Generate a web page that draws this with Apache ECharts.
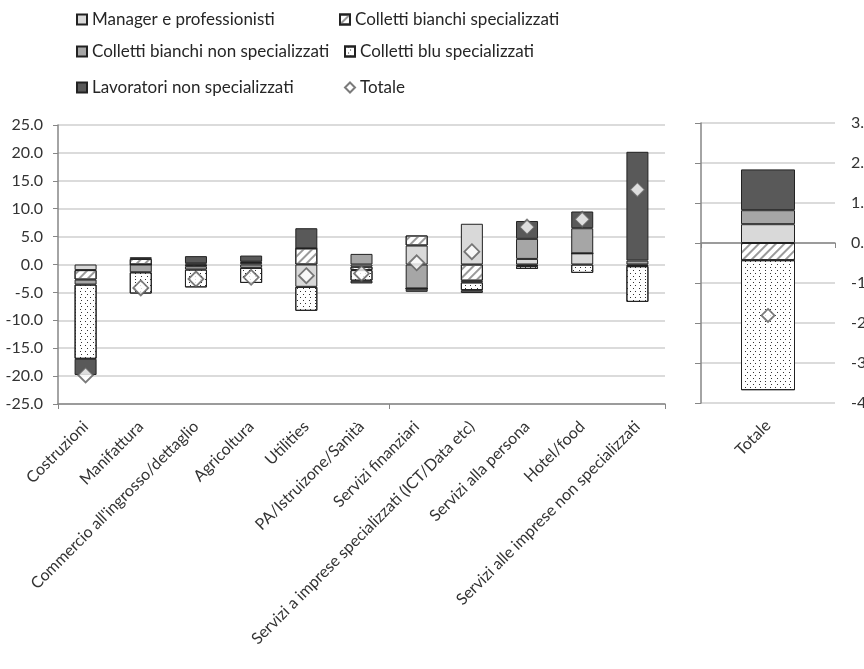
<!DOCTYPE html>
<html>
<head>
<meta charset="utf-8">
<script src="https://cdn.jsdelivr.net/npm/echarts@6/dist/echarts.min.js"></script>
<style>
  html, body { margin: 0; padding: 0; background: #fff; }
  #container { width: 864px; height: 669px; }
</style>
</head>
<body>
<div id="container"></div>
<script>
// categorie (grafico di sinistra)
var categories = ['Costruzioni', 'Manifattura', "Commercio all'ingrosso/dettaglio", 'Agricoltura', 'Utilities',
	'PA/Istruizone/Sanità', 'Servizi finanziari', 'Servizi a imprese specializzati (ICT/Data etc)',
	'Servizi alla persona', 'Hotel/food', 'Servizi alle imprese non specializzati'];
var manager = [-1.0, 0.0, 0.2, 0.3, -4.0, -0.4, 3.4, 7.3, 1.0, 2.0, -0.2];
var bianchiSpec = [-1.7, 1.0, -0.3, 0.2, 2.9, -0.6, 1.8, -2.9, -0.3, 0.0, -0.1];
var bianchiNonSpec = [-0.9, -1.4, -0.6, -0.6, 0.0, 1.9, -4.3, -0.3, 3.6, 4.5, 0.7];
var bluSpec = [-13.3, -3.8, -3.2, -2.7, -4.3, -1.9, 0.0, -1.4, -0.5, -1.5, -6.4];
var lavNonSpec = [-2.9, 0.3, 1.3, 1.1, 3.6, -0.5, -0.6, -0.5, 3.2, 3.0, 19.5];
var totale = [-19.8, -4.2, -2.6, -2.3, -2.0, -1.6, 0.3, 2.3, 6.7, 8.1, 13.4];

// grafico di destra (Totale)
var totCategories = ['Totale'];
var totManager = [0.47];
var totBianchiSpec = [-0.43];
var totBianchiNonSpec = [0.35];
var totBluSpec = [-3.25];
var totLavNonSpec = [1.02];
var totTotale = [-1.81];

var leftTicks = { min: -25, max: 25, interval: 5 };
var rightTicks = { min: -4, max: 3, interval: 1 };

var dom = document.getElementById('container');
var myChart = echarts.init(dom);

var font = 'Lato';
var border = { borderColor: '#222', borderWidth: 1 };

// stili delle serie
var styles = {
	'Manager e professionisti': { color: '#d9d9d9' },
	'Colletti bianchi specializzati': {
		color: '#ffffff',
		decal: { symbol: 'rect', color: '#9a9a9a', dashArrayX: [1, 0], dashArrayY: [1.2, 3.5], rotation: -Math.PI / 4 }
	},
	'Colletti bianchi non specializzati': { color: '#a6a6a6' },
	'Colletti blu specializzati': {
		color: '#ffffff',
		decal: { symbol: 'rect', symbolSize: 1, color: '#333', dashArrayX: [[1, 4], [0, 2.5, 1, 1.5]], dashArrayY: [1, 1.5] }
	},
	'Lavoratori non specializzati': { color: '#595959' }
};

function barSeries(name, data, xIdx, yIdx, width) {
	return {
		name: name,
		type: 'bar',
		stack: 'g' + xIdx,
		xAxisIndex: xIdx,
		yAxisIndex: yIdx,
		barWidth: width,
		itemStyle: Object.assign({}, styles[name], border),
		data: data
	};
}

function diamondSeries(data, xIdx, yIdx, size) {
	return {
		name: 'Totale',
		type: 'scatter',
		xAxisIndex: xIdx,
		yAxisIndex: yIdx,
		symbol: 'diamond',
		symbolSize: size,
		itemStyle: { color: '#fff', borderColor: '#5a5a5a', borderWidth: 1.8 },
		z: 5,
		data: data
	};
}

function legendItem(name, left, top, icon) {
	return {
		data: [icon ? { name: name, icon: icon } : name],
		left: left, top: top,
		padding: 0,
		icon: 'rect',
		itemWidth: 10, itemHeight: 10, itemGap: 6,
		textStyle: { fontFamily: font, fontSize: 17, color: '#262626' }
	};
}

var gridColor = '#cfcfcf';
var axisColor = '#868686';
var catLabel = { rotate: 45, interval: 0, margin: 20, fontSize: 16, color: '#333', fontFamily: font };

var option = {
	animation: false,
	textStyle: { fontFamily: font },
	legend: [
		legendItem('Manager e professionisti', 76, 11),
		legendItem('Colletti bianchi specializzati', 339, 11),
		legendItem('Colletti bianchi non specializzati', 76, 43),
		legendItem('Colletti blu specializzati', 344, 43),
		legendItem('Lavoratori non specializzati', 76, 79),
		legendItem('Totale', 344, 79, 'diamond')
	],
	grid: [
		{ left: 58, top: 125, width: 607, height: 279, outerBoundsMode: 'none' },
		{ left: 701, top: 123, width: 134, height: 280, outerBoundsMode: 'none' }
	],
	xAxis: [
		{ // etichette in basso
			gridIndex: 0, type: 'category', data: categories, position: 'bottom',
			axisLine: { show: false }, axisTick: { show: false },
			axisLabel: catLabel
		},
		{ // linea sullo zero
			gridIndex: 0, type: 'category', data: categories, position: 'bottom',
			axisLine: { onZero: true, lineStyle: { color: axisColor, width: 1.5 } },
			axisTick: { show: true, length: 5, lineStyle: { color: axisColor } },
			axisLabel: { show: false }
		},
		{
			gridIndex: 1, type: 'category', data: totCategories, position: 'bottom',
			axisLine: { show: false }, axisTick: { show: false },
			axisLabel: catLabel
		},
		{
			gridIndex: 1, type: 'category', data: totCategories, position: 'bottom',
			axisLine: { onZero: true, lineStyle: { color: axisColor, width: 1.5 } },
			axisTick: { show: true, length: 5, lineStyle: { color: axisColor } },
			axisLabel: { show: false }
		}
	],
	yAxis: [
		{
			gridIndex: 0, type: 'value', min: leftTicks.min, max: leftTicks.max, interval: leftTicks.interval,
			axisLine: { show: true, lineStyle: { color: axisColor, width: 1.5 } },
			axisTick: { show: true, length: 5, lineStyle: { color: axisColor } },
			axisLabel: { margin: 15, fontSize: 16, color: '#333', formatter: function (v) { return v.toFixed(1); } },
			splitLine: { lineStyle: { color: gridColor, width: 1.5 } }
		},
		{
			gridIndex: 1, type: 'value', min: rightTicks.min, max: rightTicks.max, interval: rightTicks.interval,
			position: 'left',
			axisLine: { show: true, lineStyle: { color: axisColor, width: 1.5 } },
			axisTick: { show: true, length: 6, lineStyle: { color: axisColor } },
			axisLabel: { show: false },
			splitLine: { lineStyle: { color: gridColor, width: 1.5 } }
		},
		{
			gridIndex: 1, type: 'value', min: rightTicks.min, max: rightTicks.max, interval: rightTicks.interval,
			position: 'right',
			axisLine: { show: false }, axisTick: { show: false }, splitLine: { show: false },
			axisLabel: { margin: 16, fontSize: 16, color: '#333', formatter: function (v) { return v.toFixed(1); } }
		}
	],
	series: [
		barSeries('Manager e professionisti', manager, 0, 0, 22),
		barSeries('Colletti bianchi specializzati', bianchiSpec, 0, 0, 22),
		barSeries('Colletti bianchi non specializzati', bianchiNonSpec, 0, 0, 22),
		barSeries('Colletti blu specializzati', bluSpec, 0, 0, 22),
		barSeries('Lavoratori non specializzati', lavNonSpec, 0, 0, 22),
		diamondSeries(totale, 0, 0, 15),
		barSeries('Manager e professionisti', totManager, 2, 1, 54),
		barSeries('Colletti bianchi specializzati', totBianchiSpec, 2, 1, 54),
		barSeries('Colletti bianchi non specializzati', totBianchiNonSpec, 2, 1, 54),
		barSeries('Colletti blu specializzati', totBluSpec, 2, 1, 54),
		barSeries('Lavoratori non specializzati', totLavNonSpec, 2, 1, 54),
		diamondSeries(totTotale, 2, 1, 13)
	]
};

myChart.setOption(option);
</script>
</body>
</html>
